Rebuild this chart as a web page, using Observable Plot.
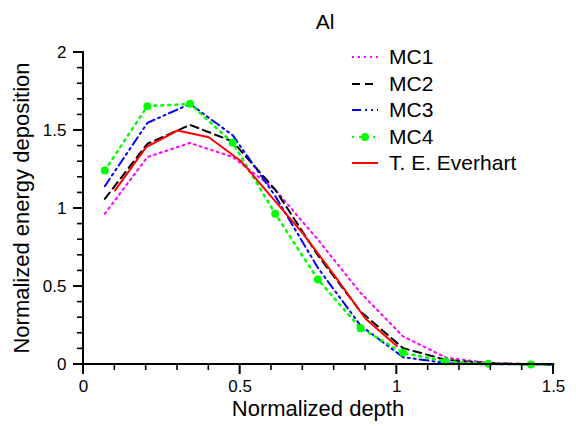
<!DOCTYPE html>
<html>
<head>
<meta charset="utf-8">
<script src="https://cdn.jsdelivr.net/npm/d3@7"></script>
<script src="https://cdn.jsdelivr.net/npm/@observablehq/plot@0.6"></script>
<style>
  html, body { margin: 0; padding: 0; background: #fff; }
</style>
</head>
<body>
<div id="chart"></div>
<script>
const title = "Al";
const xLabel = "Normalized depth";
const yLabel = "Normalized energy deposition";

const xMajorTicks = [0, 0.5, 1, 1.5];
const xTickLabels = ["0", "0.5", "1", "1.5"];
const xMinorTicks = [0.1, 0.2, 0.3, 0.4, 0.6, 0.7, 0.8, 0.9, 1.1, 1.2, 1.3, 1.4];
const yMajorTicks = [0, 0.5, 1, 1.5, 2];
const yTickLabels = ["0", "0.5", "1", "1.5", "2"];
const yMinorTicks = [0.1, 0.2, 0.3, 0.4, 0.6, 0.7, 0.8, 0.9, 1.1, 1.2, 1.3, 1.4, 1.6, 1.7, 1.8, 1.9];

// Monte Carlo depth positions (the curves run on along zero to the right edge)
const mcDepth = [0.068, 0.204, 0.340, 0.476, 0.612, 0.748, 0.884, 1.020, 1.156, 1.292, 1.428, 1.5];
const mc1 = [0.966, 1.33, 1.42, 1.33, 1.12, 0.80, 0.46, 0.18, 0.045, 0.01, 0.002, 0];
const mc2 = [1.062, 1.415, 1.536, 1.43, 1.12, 0.70, 0.34, 0.105, 0.03, 0.008, 0.002, 0];
const mc3 = [1.143, 1.549, 1.67, 1.47, 1.08, 0.62, 0.25, 0.047, 0.01, 0.003, 0, 0];
const mc4 = [1.244, 1.656, 1.671, 1.421, 0.966, 0.545, 0.233, 0.075, 0.02, 0.005, 0, 0];
const mc4Markers = 11; // markers on the first 11 MC4 points

const evDepth = [0.1, 0.2, 0.3, 0.4, 0.5, 0.6, 0.7, 0.8, 0.9, 1.0];
const everhart = [1.115, 1.393, 1.5, 1.457, 1.308, 1.075, 0.84, 0.573, 0.293, 0.118];

const seriesNames = ["MC1", "MC2", "MC3", "MC4", "T. E. Everhart"];
const seriesColors = ["#ff00ff", "#000000", "#0000ff", "#00ff00", "#ff0000"];
const seriesDash = ["2,4", "8,5", "9,4,2,4,2,4", "2,5", null];

const FONT = "Liberation Sans, Arial, sans-serif";
const mk = (xs, ys) => xs.map((x, i) => ({x, y: ys[i]}));
const d1 = mk(mcDepth, mc1), d2 = mk(mcDepth, mc2), d3s = mk(mcDepth, mc3), d4 = mk(mcDepth, mc4);
const dE = mk(evDepth, everhart);

const fontTick = 17;
const plot = Plot.plot({
  width: 576,
  height: 426,
  marginLeft: 83,
  marginRight: 23,
  marginTop: 52,
  marginBottom: 62,
  x: {domain: [0, 1.5]},
  y: {domain: [0, 2]},
  marks: [
    Plot.axisX({ticks: xMajorTicks, tickSize: 0, tickPadding: 15, tickFormat: (d, i) => xTickLabels[i], fontSize: fontTick, fontFamily: FONT, label: null}),
    Plot.axisY({ticks: yMajorTicks, tickSize: 0, tickPadding: 17, tickFormat: (d, i) => yTickLabels[i], fontSize: fontTick, fontFamily: FONT, label: null}),
    Plot.line(d1, {x: "x", y: "y", stroke: seriesColors[0], strokeWidth: 2, strokeDasharray: seriesDash[0]}),
    Plot.line(d2, {x: "x", y: "y", stroke: seriesColors[1], strokeWidth: 2, strokeDasharray: seriesDash[1]}),
    Plot.line(d3s, {x: "x", y: "y", stroke: seriesColors[2], strokeWidth: 2, strokeDasharray: seriesDash[2]}),
    Plot.line(d4, {x: "x", y: "y", stroke: seriesColors[3], strokeWidth: 2.5, strokeDasharray: seriesDash[3]}),
    Plot.dot(d4.slice(0, mc4Markers), {x: "x", y: "y", fill: seriesColors[3], r: 4}),
    Plot.line(dE, {x: "x", y: "y", stroke: seriesColors[4], strokeWidth: 2})
  ]
});

const sx = plot.scale("x"), sy = plot.scale("y");
const X = v => sx.apply(v), Y = v => sy.apply(v);
const svg = d3.select(plot);
const ann = svg.append("g").attr("font-family", FONT).attr("fill", "#000");

// axis lines and tick marks as thin filled bars, placed through Plot's own scales
const bar = (x, y, w, h) => ann.append("rect")
  .attr("x", x).attr("y", y).attr("width", w).attr("height", h).attr("fill", "#000");
xMinorTicks.forEach(v => bar(X(v) - 0.8, Y(0), 1.6, 6));
xMajorTicks.forEach(v => bar(X(v) - 1, Y(0), 2, 10));
yMinorTicks.forEach(v => bar(X(0) - 6, Y(v) - 0.8, 6, 1.6));
yMajorTicks.forEach(v => bar(X(0) - 10, Y(v) - 1, 10, 2));
bar(X(0) - 1, Y(0) - 1, X(1.5) - X(0) + 2, 2);
bar(X(0) - 1, Y(2) - 1, 2, Y(0) - Y(2) + 2);

ann.append("text").attr("x", 325).attr("y", 29).attr("text-anchor", "middle")
  .attr("font-size", 21).text(title);
ann.append("text").attr("x", 318).attr("y", 416).attr("text-anchor", "middle")
  .attr("font-size", 22).text(xLabel);
ann.append("text").attr("transform", "translate(29,208) rotate(-90)").attr("text-anchor", "middle")
  .attr("font-size", 22).text(yLabel);

const rowY = [57, 84, 110, 137, 163];
seriesNames.forEach((name, i) => {
  const y = rowY[i];
  const ln = ann.append("line").attr("x1", 352).attr("x2", 378).attr("y1", y).attr("y2", y)
    .attr("stroke", seriesColors[i]).attr("stroke-width", 2);
  if (seriesDash[i]) ln.attr("stroke-dasharray", seriesDash[i]);
  if (i === 3) ann.append("circle").attr("cx", 365).attr("cy", y).attr("r", 4).attr("fill", seriesColors[i]);
  ann.append("text").attr("x", 389).attr("y", y + 7).attr("text-anchor", "start")
    .attr("font-size", 21).text(name);
});

document.getElementById("chart").appendChild(plot);
</script>
</body>
</html>
